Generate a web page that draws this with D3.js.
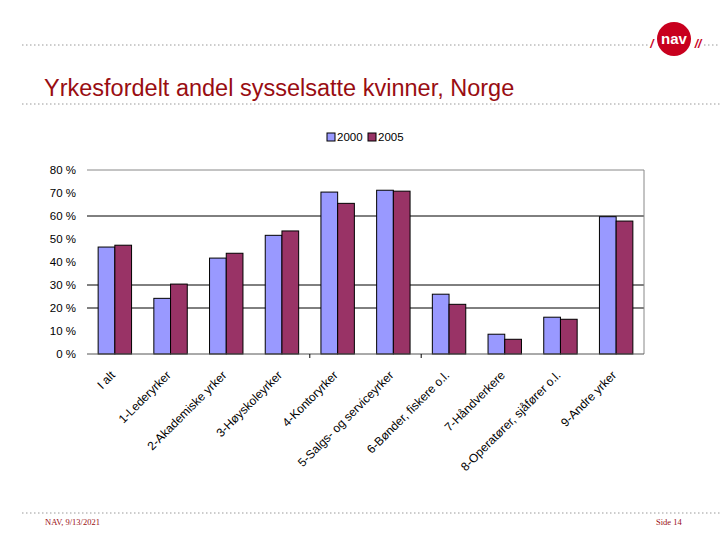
<!DOCTYPE html>
<html><head><meta charset="utf-8">
<script src="https://cdn.jsdelivr.net/npm/d3@7"></script>
<style>
body{margin:0;background:#fff;}
svg{display:block;font-family:"Liberation Sans",Arial,sans-serif;}
</style></head>
<body>
<script>
const categories = ["I alt","1-Lederyrker","2-Akademiske yrker","3-Høyskoleyrker","4-Kontoryrker","5-Salgs- og serviceyrker","6-Bønder, fiskere o.l.","7-Håndverkere","8-Operatører, sjåfører o.l.","9-Andre yrker"];
const seriesNames = ["2000","2005"];
const values2000 = [46.5,24.2,41.7,51.6,70.4,71.2,26.0,8.6,16.0,59.7];
const values2005 = [47.3,30.4,43.8,53.5,65.5,70.8,21.6,6.4,15.1,57.8];
const yTicks = [0,10,20,30,40,50,60,70,80];
const gridShown = [60,30,20];
const tickBoundaries = [4,6];
const title = "Yrkesfordelt andel sysselsatte kvinner, Norge";
const footerLeft = "NAV, 9/13/2021";
const footerRight = "Side 14";

const W=720,H=540;
const colors = ["#9999ff","#993366"];
const red = "#990d12";
const svg = d3.select("body").append("svg").attr("width",W).attr("height",H);

// dotted rules
[[22,45,650],[22,104,720],[22,513,720]].forEach(([x1,y,x2])=>{
  svg.append("line").attr("x1",x1).attr("x2",x2).attr("y1",y).attr("y2",y)
    .attr("stroke","#999").attr("stroke-width",1).attr("stroke-dasharray","1.5,2.5");
});
svg.append("line").attr("x1",704).attr("x2",720).attr("y1",45).attr("y2",45)
  .attr("stroke","#999").attr("stroke-dasharray","1.5,2.5");

// NAV logo
svg.append("circle").attr("cx",674).attr("cy",39).attr("r",17).attr("fill","#c8001e");
svg.append("text").attr("x",674).attr("y",44).attr("text-anchor","middle")
  .attr("fill","#fff").attr("font-weight","bold").attr("font-size",15).text("nav");
svg.append("text").attr("x",652).attr("y",48).attr("text-anchor","middle")
  .attr("fill","#c8001e").attr("font-weight","bold").attr("font-style","italic").attr("font-size",12).text("/");
svg.append("text").attr("x",698).attr("y",48).attr("text-anchor","middle")
  .attr("fill","#c8001e").attr("font-weight","bold").attr("font-style","italic").attr("font-size",12).text("//");

// Title
svg.append("text").attr("x",44).attr("y",96).attr("fill",red)
  .attr("font-size",23.5).text(title);

// footer
svg.append("text").attr("x",45).attr("y",525).attr("fill",red)
  .attr("font-family","Liberation Serif, serif").attr("font-size",8.5).text(footerLeft);
svg.append("text").attr("x",656).attr("y",525).attr("fill",red)
  .attr("font-family","Liberation Serif, serif").attr("font-size",8.5).text(footerRight);

// chart
const x0 = d3.scaleBand().domain(categories).range([87,644]).paddingInner(0.4).paddingOuter(0.2);
const x1 = d3.scaleBand().domain(seriesNames).range([0,x0.bandwidth()]);
const y = d3.scaleLinear().domain([0,80]).range([354,170]);
const step = x0.step();
const xb = i => 87 + i*step;

// gridlines
svg.append("g").selectAll("line").data(gridShown).join("line")
  .attr("x1",87).attr("x2",644).attr("y1",d=>y(d)).attr("y2",d=>y(d))
  .attr("stroke","#000").attr("stroke-width",1);
// plot border top/right
svg.append("path").attr("d",`M87,${y(80)}H644V${y(0)}`).attr("fill","none")
  .attr("stroke","#888").attr("stroke-width",1);

// bars
const data = categories.map((c,i)=>({c, v:[values2000[i],values2005[i]]}));
const g = svg.append("g");
data.forEach(d=>{
  d.v.forEach((v,j)=>{
    g.append("rect").attr("x",x0(d.c)+x1(seriesNames[j])).attr("y",y(v))
      .attr("width",x1.bandwidth()).attr("height",y(0)-y(v))
      .attr("fill",colors[j]).attr("stroke","#000").attr("stroke-width",1);
  });
});

// x axis line
svg.append("line").attr("x1",87).attr("x2",644).attr("y1",y(0)).attr("y2",y(0))
  .attr("stroke","#555").attr("stroke-width",1);
svg.append("g").selectAll("line").data(tickBoundaries).join("line")
  .attr("x1",d=>xb(d)).attr("x2",d=>xb(d)).attr("y1",y(0)).attr("y2",y(0)+4)
  .attr("stroke","#000");

// y labels
svg.append("g").selectAll("text").data(yTicks).join("text")
  .attr("x",76).attr("y",d=>y(d)).attr("dy","0.35em").attr("text-anchor","end")
  .attr("font-size",11.5).attr("fill","#000").text(d=>d+" %");

// x labels
svg.append("g").selectAll("text").data(categories).join("text")
  .attr("text-anchor","end").attr("font-size",12).attr("fill","#000")
  .attr("transform",d=>`translate(${x0(d)+x0.bandwidth()/2-2},${y(0)+19}) rotate(-45)`)
  .attr("dy","0.35em").text(d=>d);

// legend
const lg = svg.append("g");
seriesNames.forEach((s,i)=>{
  const lx = 327 + i*41;
  lg.append("rect").attr("x",lx).attr("y",133).attr("width",8).attr("height",8)
    .attr("fill",colors[i]).attr("stroke","#000").attr("stroke-width",1);
  lg.append("text").attr("x",lx+10).attr("y",141).attr("font-size",11.5).text(s);
});
</script>
</body></html>
